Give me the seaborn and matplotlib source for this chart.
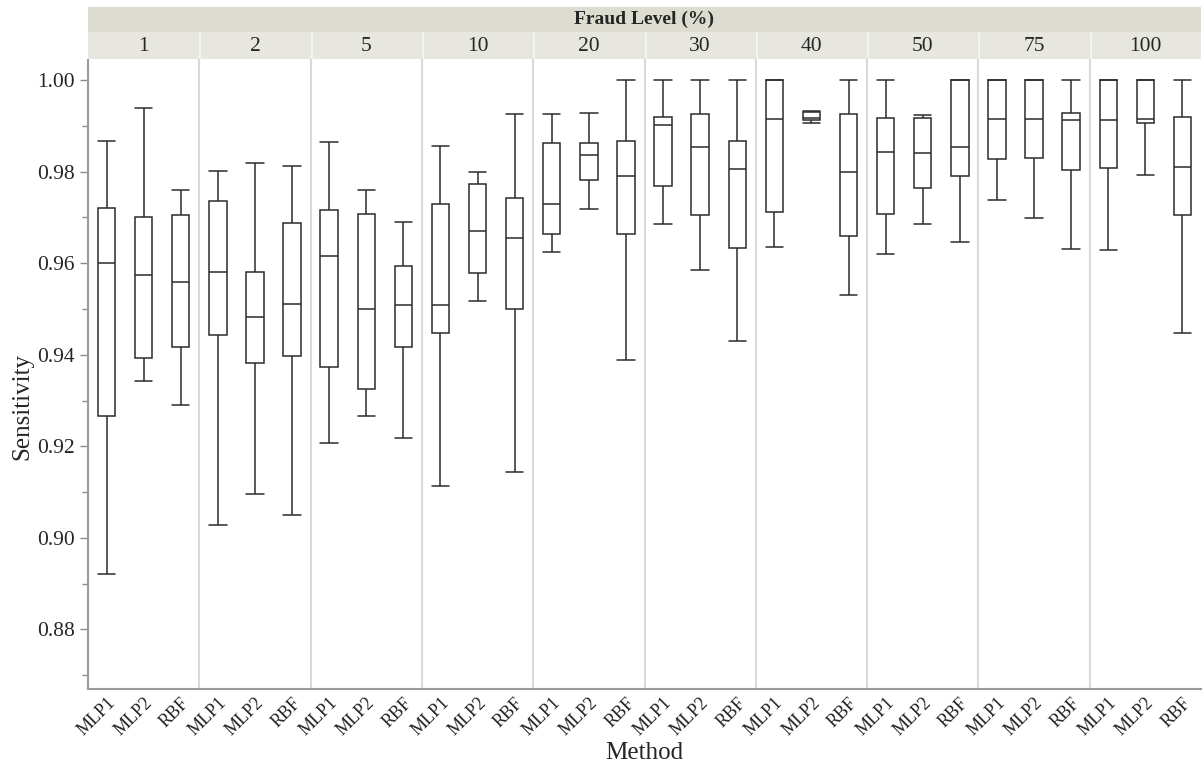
import numpy as np
import pandas as pd
import matplotlib
matplotlib.use("Agg")
import matplotlib.pyplot as plt
import seaborn as sns

# five-number summaries, ordered fraud level -> method
fraud_levels = ["1", "2", "5", "10", "20", "30", "40", "50", "75", "100"]
methods = ["MLP1", "MLP2", "RBF"]

whis_lo = [0.8922, 0.9342, 0.9290,  0.9029, 0.9096, 0.9050,  0.9208, 0.9267, 0.9218,
           0.9113, 0.9517, 0.9145,  0.9625, 0.9718, 0.9389,  0.9686, 0.9586, 0.9430,
           0.9636, 0.9907, 0.9530,  0.9621, 0.9686, 0.9646,  0.9738, 0.9699, 0.9632,
           0.9628, 0.9792, 0.9448]
q1 = [0.9267, 0.9394, 0.9418,  0.9444, 0.9383, 0.9398,  0.9373, 0.9325, 0.9418,
      0.9448, 0.9579, 0.9501,  0.9664, 0.9782, 0.9664,  0.9768, 0.9705, 0.9634,
      0.9711, 0.9912, 0.9659,  0.9708, 0.9764, 0.9791,  0.9827, 0.9830, 0.9804,
      0.9809, 0.9907, 0.9705]
med = [0.9600, 0.9575, 0.9559,  0.9580, 0.9482, 0.9511,  0.9616, 0.9501, 0.9508,
       0.9508, 0.9670, 0.9656,  0.9730, 0.9837, 0.9791,  0.9903, 0.9853, 0.9805,
       0.9916, 0.9917, 0.9799,  0.9843, 0.9840, 0.9853,  0.9916, 0.9916, 0.9913,
       0.9913, 0.9916, 0.9810]
q3 = [0.9721, 0.9700, 0.9705,  0.9737, 0.9581, 0.9689,  0.9716, 0.9707, 0.9594,
      0.9729, 0.9773, 0.9742,  0.9863, 0.9863, 0.9866,  0.9920, 0.9926, 0.9866,
      1.0000, 0.9930, 0.9926,  0.9918, 0.9918, 1.0000,  1.0000, 1.0000, 0.9928,
      1.0000, 1.0000, 0.9920]
whis_hi = [0.9867, 0.9939, 0.9760,  0.9802, 0.9819, 0.9813,  0.9864, 0.9759, 0.9690,
           0.9857, 0.9800, 0.9926,  0.9926, 0.9928, 1.0000,  1.0000, 1.0000, 1.0000,
           1.0000, 0.9932, 1.0000,  1.0000, 0.9923, 1.0000,  1.0000, 1.0000, 1.0000,
           1.0000, 1.0000, 1.0000]

rows = []
i = 0
for lvl in fraud_levels:
    for m in methods:
        for v in (whis_lo[i], q1[i], med[i], q3[i], whis_hi[i]):
            rows.append({"Fraud": lvl, "Method": m, "Sensitivity": v})
        i += 1
df = pd.DataFrame(rows)

sns.set_style("white")
plt.rcParams["font.family"] = ["Liberation Serif", "DejaVu Serif"]

W, H = 1203, 766
fig, axes = plt.subplots(1, 10, sharey=True, figsize=(W / 100, H / 100), dpi=100)
L, R, B, T = 88, 1201, 689, 60
fig.subplots_adjust(left=L / W, right=R / W, bottom=1 - B / H, top=1 - T / H, wspace=0)

for k, (ax, lvl) in enumerate(zip(axes, fraud_levels)):
    sub = df[df["Fraud"] == lvl]
    sns.boxplot(data=sub, x="Method", y="Sensitivity", order=methods, ax=ax,
                whis=(0, 100), width=0.47, color="white", linecolor="#2b2b2b",
                linewidth=1.1, capwidths=0.47, showfliers=False)
    ax.set_xlabel("")
    ax.set_ylabel("")
    ax.set_xlim(-0.5, 2.5)
    for s in ["top", "right"]:
        ax.spines[s].set_visible(False)
    ax.spines["bottom"].set_color("#9a9a9a")
    ax.spines["bottom"].set_linewidth(1.5)
    if k == 0:
        ax.spines["left"].set_color("#9a9a9a")
        ax.spines["left"].set_linewidth(1.5)
    else:
        ax.spines["left"].set_color("#d9d9d9")
        ax.spines["left"].set_linewidth(1.5)
        ax.tick_params(axis="y", left=False, which="both")
    ax.tick_params(axis="x", length=0, pad=4)
    ax.set_xticks(range(3))
    ax.set_xticklabels(methods, rotation=45, ha="right", va="top",
                       rotation_mode="anchor", fontsize=13)

ax0 = axes[0]
ax0.set_ylim(0.867, 1.0044)
ax0.set_yticks(np.arange(0.88, 1.001, 0.02))
ax0.set_yticks(np.arange(0.87, 1.001, 0.01), minor=True)
ax0.set_yticklabels([f"{v:.2f}" for v in np.arange(0.88, 1.001, 0.02)], fontsize=15.5)
ax0.tick_params(axis="y", which="major", length=6, color="#8a8a8a", width=1, left=True)
ax0.tick_params(axis="y", which="minor", length=4, color="#8a8a8a", width=1, left=True)

# header strips
pw = (R - L) / 10
for k, lvl in enumerate(fraud_levels):
    hx = fig.add_axes([(L + k * pw) / W, 1 - 59 / H, pw / W, 27 / H])
    hx.set_facecolor("#e7e7df")
    hx.set_xticks([])
    hx.set_yticks([])
    for s in hx.spines.values():
        s.set_visible(False)
    if k > 0:
        hx.axvline(0, color="#f4f4f0", lw=2)
    hx.text(0.5, 0.45, lvl, ha="center", va="center", fontsize=15.5,
            transform=hx.transAxes)

top = fig.add_axes([L / W, 1 - 32 / H, (R - L) / W, 25 / H])
top.set_facecolor("#dcdcd0")
top.set_xticks([])
top.set_yticks([])
for s in top.spines.values():
    s.set_visible(False)
top.text(0.5, 0.5, "Fraud Level (%)", ha="center", va="center", fontsize=14,
         fontweight="bold", transform=top.transAxes)

fig.text(22 / W, 1 - 406 / H, "Sensitivity", rotation=90, ha="center", va="center",
         fontsize=18)
fig.text((L + R) / 2 / W, 1 - 753 / H, "Method", ha="center", va="center", fontsize=18)

fig.savefig("out.png", dpi=100)
